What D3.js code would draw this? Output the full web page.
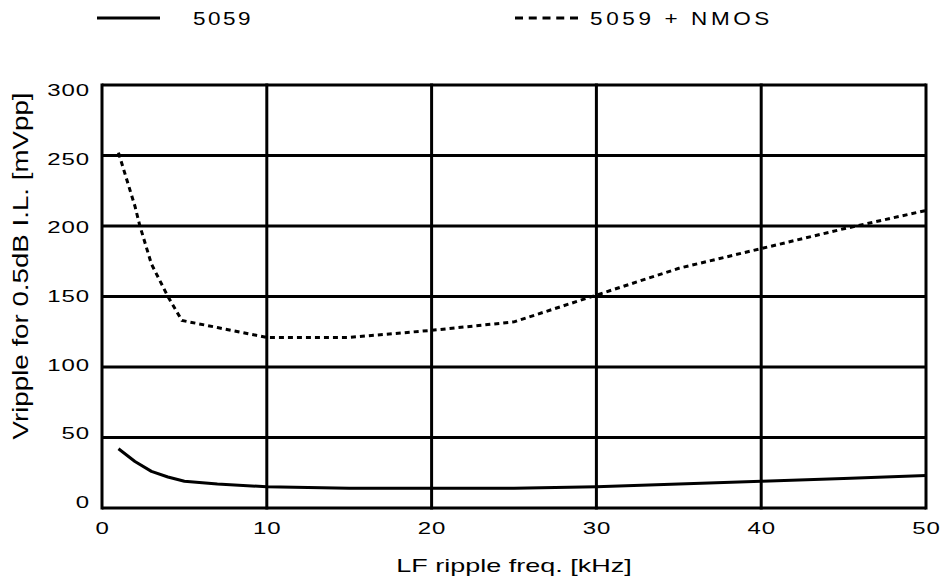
<!DOCTYPE html>
<html>
<head>
<meta charset="utf-8">
<script src="https://cdn.jsdelivr.net/npm/d3@7/dist/d3.min.js"></script>
<style>
  html, body { margin: 0; padding: 0; background: #fff; }
  text { font-family: "Liberation Sans", Arial, Helvetica, sans-serif; fill: #000; }
</style>
</head>
<body>
<svg id="chart" width="942" height="579"></svg>
<script>
// ---- data ----
const xTicks = [0, 10, 20, 30, 40, 50];
const yTicks = [0, 50, 100, 150, 200, 250, 300];
const seriesNames = ["5059", "5059 + NMOS"];
const freq5059 = [1, 2, 3, 4, 5, 7, 10, 15, 20, 25, 30, 35, 40, 45, 50];
const vr5059   = [42, 33, 26, 22, 19, 17, 15, 14, 14, 14, 15, 17, 19, 21, 23];
const freqNmos = [1, 2, 2.3, 3, 4, 4.85, 7, 10, 15, 20, 25, 30, 35, 40, 45, 50];
const vrNmos   = [252, 214, 200, 173, 150, 133, 128, 121, 121, 126, 132, 151, 170, 184, 198, 211];
const xTitle = "LF ripple freq. [kHz]";
const yTitle = "Vripple for 0.5dB I.L. [mVpp]";

// ---- layout ----
(function () {
const svg = d3.select("#chart");
const pL = 102, pR = 926, pT = 85, pB = 508;
const x = d3.scaleLinear().domain([0, 50]).range([pL, pR]);
const y = d3.scaleLinear().domain([0, 300]).range([pB, pT]);
const yLab = d3.scaleLinear().domain([0, 300]).range([502.5, 90.5]);

const g = svg.append("g");

// grid lines
g.selectAll("line.h").data(yTicks).enter().append("line")
  .attr("x1", pL).attr("x2", pR)
  .attr("y1", d => y(d)).attr("y2", d => y(d))
  .attr("stroke", "#000").attr("stroke-width", 3);
g.selectAll("line.v").data(xTicks).enter().append("line")
  .attr("y1", pT - 1.5).attr("y2", pB + 1.5)
  .attr("x1", d => x(d)).attr("x2", d => x(d))
  .attr("stroke", "#000").attr("stroke-width", 3);

// tick labels
g.selectAll("text.yl").data(yTicks).enter().append("text")
  .attr("transform", d => `translate(90,${yLab(d)}) scale(1.5,1)`)
  .attr("text-anchor", "end").attr("dominant-baseline", "central")
  .attr("font-size", 16).attr("letter-spacing", 0.6)
  .text(d => d);
g.selectAll("text.xl").data(xTicks).enter().append("text")
  .attr("transform", d => `translate(${x(d) + 0.5},534) scale(1.5,1)`)
  .attr("text-anchor", "middle")
  .attr("font-size", 16).attr("letter-spacing", 0.6)
  .text(d => d);

// axis titles
svg.append("text")
  .attr("transform", `translate(${(pL + pR) / 2},572) scale(1.42,1)`)
  .attr("text-anchor", "middle").attr("font-size", 19)
  .text(xTitle);
svg.append("text")
  .attr("transform", `translate(28,266) rotate(-90) scale(1.26,1)`)
  .attr("text-anchor", "middle").attr("font-size", 22)
  .text(yTitle);

// series lines
const line = d3.line().x(d => x(d[0])).y(d => y(d[1]));
g.append("path")
  .datum(d3.zip(freq5059, vr5059))
  .attr("d", line).attr("fill", "none")
  .attr("stroke", "#000").attr("stroke-width", 3)
  .attr("stroke-linejoin", "round");
g.append("path")
  .datum(d3.zip(freqNmos, vrNmos))
  .attr("d", line).attr("fill", "none")
  .attr("stroke", "#000").attr("stroke-width", 3)
  .attr("stroke-dasharray", "5,4");

// legend
const leg = svg.append("g");
leg.append("line").attr("x1", 97).attr("x2", 160).attr("y1", 18).attr("y2", 18)
  .attr("stroke", "#000").attr("stroke-width", 3);
leg.append("text").attr("transform", "translate(193,25) scale(1.25,1)")
  .attr("font-size", 18).attr("letter-spacing", 2).text(seriesNames[0]);
leg.append("line").attr("x1", 515).attr("x2", 578).attr("y1", 18).attr("y2", 18)
  .attr("stroke", "#000").attr("stroke-width", 3).attr("stroke-dasharray", "8,5.75");
leg.append("text").attr("transform", "translate(590,25) scale(1.25,1)")
  .attr("font-size", 18).attr("letter-spacing", 2.9).text(seriesNames[1]);
})();
</script>
</body>
</html>
